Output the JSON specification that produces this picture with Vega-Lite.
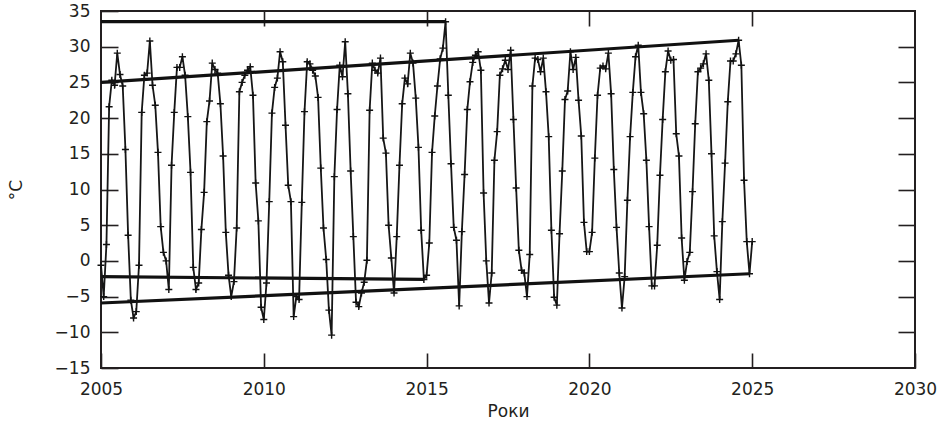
{
"$schema": "https://vega.github.io/schema/vega-lite/v6.json",
"width": 814, "height": 357,
"autosize": {"type": "none"},
"padding": {"left": 101, "top": 11, "right": 25, "bottom": 70},
"background": "white",
"config": {
 "view": {"stroke": "#231f20", "strokeWidth": 2},
 "axis": {"grid": false, "domain": false, "tickColor": "#231f20", "tickWidth": 1.6, "labelFlush": false, "labelFont": "DejaVu Sans", "labelFontSize": 17, "labelColor": "#231f20", "titleFont": "DejaVu Sans", "titleFontSize": 17, "titleFontWeight": "normal", "titleColor": "#231f20"}
},
"datasets": {
 "trend": [
  {"seg": "A", "t": 2005.0, "v": 33.5}, {"seg": "A", "t": 2015.583, "v": 33.5},
  {"seg": "B", "t": 2005.0, "v": -2.2}, {"seg": "B", "t": 2014.917, "v": -2.6},
  {"seg": "C", "t": 2005.0, "v": 25.0}, {"seg": "C", "t": 2024.583, "v": 30.9},
  {"seg": "D", "t": 2005.0, "v": -5.9}, {"seg": "D", "t": 2024.917, "v": -1.8}
 ],
 "series": [
  {"t":2005.000,"v":-0.6},{"t":2005.083,"v":-5.0},{"t":2005.167,"v":2.3},{"t":2005.250,"v":21.6},{"t":2005.333,"v":25.3},{"t":2005.417,"v":24.6},{"t":2005.500,"v":29.1},{"t":2005.583,"v":26.1},{"t":2005.667,"v":24.5},{"t":2005.750,"v":15.6},{"t":2005.833,"v":3.6},{"t":2005.917,"v":-5.5},
  {"t":2006.000,"v":-8.0},{"t":2006.083,"v":-7.1},{"t":2006.167,"v":-0.6},{"t":2006.250,"v":20.8},{"t":2006.333,"v":26.0},{"t":2006.417,"v":26.3},{"t":2006.500,"v":30.8},{"t":2006.583,"v":24.6},{"t":2006.667,"v":21.8},{"t":2006.750,"v":15.2},{"t":2006.833,"v":4.8},{"t":2006.917,"v":1.2},
  {"t":2007.000,"v":0.0},{"t":2007.083,"v":-4.0},{"t":2007.167,"v":13.4},{"t":2007.250,"v":20.8},{"t":2007.333,"v":27.1},{"t":2007.417,"v":27.1},{"t":2007.500,"v":28.6},{"t":2007.583,"v":26.0},{"t":2007.667,"v":20.2},{"t":2007.750,"v":12.4},{"t":2007.833,"v":-0.9},{"t":2007.917,"v":-4.0},
  {"t":2008.000,"v":-3.1},{"t":2008.083,"v":4.4},{"t":2008.167,"v":9.6},{"t":2008.250,"v":19.5},{"t":2008.333,"v":22.4},{"t":2008.417,"v":27.7},{"t":2008.500,"v":26.8},{"t":2008.583,"v":26.3},{"t":2008.667,"v":22.0},{"t":2008.750,"v":14.7},{"t":2008.833,"v":4.0},{"t":2008.917,"v":-2.0},
  {"t":2009.000,"v":-5.0},{"t":2009.083,"v":-2.9},{"t":2009.167,"v":4.6},{"t":2009.250,"v":23.7},{"t":2009.333,"v":25.0},{"t":2009.417,"v":26.0},{"t":2009.500,"v":26.7},{"t":2009.583,"v":27.2},{"t":2009.667,"v":23.2},{"t":2009.750,"v":10.9},{"t":2009.833,"v":5.6},{"t":2009.917,"v":-6.5},
  {"t":2010.000,"v":-8.2},{"t":2010.083,"v":-3.1},{"t":2010.167,"v":8.3},{"t":2010.250,"v":20.7},{"t":2010.333,"v":24.3},{"t":2010.417,"v":25.6},{"t":2010.500,"v":29.3},{"t":2010.583,"v":27.9},{"t":2010.667,"v":19.0},{"t":2010.750,"v":10.6},{"t":2010.833,"v":8.3},{"t":2010.917,"v":-7.8},
  {"t":2011.000,"v":-5.0},{"t":2011.083,"v":-5.4},{"t":2011.167,"v":8.2},{"t":2011.250,"v":20.9},{"t":2011.333,"v":27.9},{"t":2011.417,"v":27.6},{"t":2011.500,"v":26.7},{"t":2011.583,"v":25.9},{"t":2011.667,"v":22.9},{"t":2011.750,"v":13.0},{"t":2011.833,"v":4.6},{"t":2011.917,"v":0.2},
  {"t":2012.000,"v":-6.9},{"t":2012.083,"v":-10.4},{"t":2012.167,"v":11.8},{"t":2012.250,"v":21.2},{"t":2012.333,"v":27.4},{"t":2012.417,"v":25.8},{"t":2012.500,"v":30.7},{"t":2012.583,"v":23.4},{"t":2012.667,"v":12.6},{"t":2012.750,"v":3.4},{"t":2012.833,"v":-5.8},{"t":2012.917,"v":-6.4},
  {"t":2013.000,"v":-4.5},{"t":2013.083,"v":-3.0},{"t":2013.167,"v":0.1},{"t":2013.250,"v":21.1},{"t":2013.333,"v":27.7},{"t":2013.417,"v":26.7},{"t":2013.500,"v":26.3},{"t":2013.583,"v":28.4},{"t":2013.667,"v":17.2},{"t":2013.750,"v":15.1},{"t":2013.833,"v":5.0},{"t":2013.917,"v":0.4},
  {"t":2014.000,"v":-4.5},{"t":2014.083,"v":3.4},{"t":2014.167,"v":13.4},{"t":2014.250,"v":22.0},{"t":2014.333,"v":25.6},{"t":2014.417,"v":24.8},{"t":2014.500,"v":29.1},{"t":2014.583,"v":27.7},{"t":2014.667,"v":22.8},{"t":2014.750,"v":15.9},{"t":2014.833,"v":4.3},{"t":2014.917,"v":-2.6},
  {"t":2015.000,"v":-2.0},{"t":2015.083,"v":2.5},{"t":2015.167,"v":15.2},{"t":2015.250,"v":20.3},{"t":2015.333,"v":24.5},{"t":2015.417,"v":28.3},{"t":2015.500,"v":29.8},{"t":2015.583,"v":33.5},{"t":2015.667,"v":23.2},{"t":2015.750,"v":13.6},{"t":2015.833,"v":4.7},{"t":2015.917,"v":2.9},
  {"t":2016.000,"v":-6.3},{"t":2016.083,"v":4.1},{"t":2016.167,"v":12.1},{"t":2016.250,"v":21.2},{"t":2016.333,"v":25.1},{"t":2016.417,"v":27.8},{"t":2016.500,"v":28.8},{"t":2016.583,"v":29.3},{"t":2016.667,"v":26.7},{"t":2016.750,"v":9.5},{"t":2016.833,"v":0.0},{"t":2016.917,"v":-5.9},
  {"t":2017.000,"v":-1.7},{"t":2017.083,"v":14.1},{"t":2017.167,"v":18.1},{"t":2017.250,"v":26.0},{"t":2017.333,"v":26.9},{"t":2017.417,"v":28.1},{"t":2017.500,"v":26.8},{"t":2017.583,"v":29.5},{"t":2017.667,"v":19.8},{"t":2017.750,"v":10.2},{"t":2017.833,"v":1.5},{"t":2017.917,"v":-1.3},
  {"t":2018.000,"v":-1.7},{"t":2018.083,"v":-5.0},{"t":2018.167,"v":0.9},{"t":2018.250,"v":24.5},{"t":2018.333,"v":28.4},{"t":2018.417,"v":28.2},{"t":2018.500,"v":26.5},{"t":2018.583,"v":28.4},{"t":2018.667,"v":23.7},{"t":2018.750,"v":17.4},{"t":2018.833,"v":4.3},{"t":2018.917,"v":-5.1},
  {"t":2019.000,"v":-6.2},{"t":2019.083,"v":3.8},{"t":2019.167,"v":12.6},{"t":2019.250,"v":22.6},{"t":2019.333,"v":23.8},{"t":2019.417,"v":29.3},{"t":2019.500,"v":26.8},{"t":2019.583,"v":28.5},{"t":2019.667,"v":22.5},{"t":2019.750,"v":17.5},{"t":2019.833,"v":5.4},{"t":2019.917,"v":1.3},
  {"t":2020.000,"v":1.3},{"t":2020.083,"v":4.0},{"t":2020.167,"v":14.4},{"t":2020.250,"v":23.2},{"t":2020.333,"v":27.0},{"t":2020.417,"v":27.3},{"t":2020.500,"v":26.9},{"t":2020.583,"v":29.1},{"t":2020.667,"v":23.4},{"t":2020.750,"v":12.8},{"t":2020.833,"v":4.7},{"t":2020.917,"v":-1.7},
  {"t":2021.000,"v":-6.6},{"t":2021.083,"v":-2.2},{"t":2021.167,"v":8.5},{"t":2021.250,"v":17.4},{"t":2021.333,"v":23.6},{"t":2021.417,"v":28.6},{"t":2021.500,"v":30.2},{"t":2021.583,"v":23.6},{"t":2021.667,"v":20.6},{"t":2021.750,"v":14.1},{"t":2021.833,"v":4.8},{"t":2021.917,"v":-3.5},
  {"t":2022.000,"v":-3.5},{"t":2022.083,"v":2.2},{"t":2022.167,"v":12.0},{"t":2022.250,"v":19.8},{"t":2022.333,"v":26.5},{"t":2022.417,"v":29.4},{"t":2022.500,"v":28.1},{"t":2022.583,"v":28.2},{"t":2022.667,"v":17.8},{"t":2022.750,"v":14.7},{"t":2022.833,"v":3.2},{"t":2022.917,"v":-2.7},
  {"t":2023.000,"v":-0.1},{"t":2023.083,"v":1.2},{"t":2023.167,"v":9.7},{"t":2023.250,"v":19.2},{"t":2023.333,"v":26.5},{"t":2023.417,"v":27.0},{"t":2023.500,"v":27.6},{"t":2023.583,"v":29.0},{"t":2023.667,"v":25.3},{"t":2023.750,"v":15.0},{"t":2023.833,"v":3.5},{"t":2023.917,"v":-1.5},
  {"t":2024.000,"v":-5.4},{"t":2024.083,"v":5.5},{"t":2024.167,"v":13.7},{"t":2024.250,"v":22.3},{"t":2024.333,"v":28.0},{"t":2024.417,"v":28.0},{"t":2024.500,"v":29.0},{"t":2024.583,"v":30.9},{"t":2024.667,"v":27.4},{"t":2024.750,"v":11.3},{"t":2024.833,"v":2.7},{"t":2024.917,"v":-1.8},
  {"t":2025.000,"v":2.7}
 ]
},
"layer": [
 {
  "data": {"name": "trend"},
  "mark": {"type": "line", "color": "#111111", "strokeWidth": 3.2},
  "encoding": {
   "x": {"field": "t", "type": "quantitative", "scale": {"domain": [2005, 2030], "nice": false},
         "axis": {"orient": "bottom", "title": "Роки", "values": [2005, 2010, 2015, 2020, 2025, 2030], "format": "d", "offset": -15, "tickSize": 15, "labelPadding": 13, "titlePadding": 6}},
   "y": {"field": "v", "type": "quantitative", "scale": {"domain": [-15, 35], "nice": false},
         "axis": {"orient": "left", "title": "°C", "values": [-15, -10, -5, 0, 5, 10, 15, 20, 25, 30, 35], "offset": -17, "tickSize": 17, "labelPadding": 11, "titlePadding": 29}},
   "detail": {"field": "seg", "type": "nominal"}
  }
 },
 {
  "data": {"name": "series"},
  "mark": {"type": "line", "color": "#161616", "strokeWidth": 1.8},
  "encoding": {
   "x": {"field": "t", "type": "quantitative", "scale": {"domain": [2005, 2030], "nice": false},
         "axis": {"orient": "top", "title": null, "labels": false, "values": [2010, 2015, 2020, 2025], "offset": -15, "tickSize": 15}},
   "y": {"field": "v", "type": "quantitative", "scale": {"domain": [-15, 35], "nice": false},
         "axis": {"orient": "right", "title": null, "labels": false, "values": [-10, -5, 0, 5, 10, 15, 20, 25, 30], "offset": -17, "tickSize": 17}}
  }
 },
 {
  "data": {"name": "series"},
  "mark": {"type": "point", "shape": "M-1,0H1M0,-1V1", "size": 49, "filled": false, "stroke": "#111", "strokeWidth": 1.4, "opacity": 1},
  "encoding": {
   "x": {"field": "t", "type": "quantitative", "axis": null},
   "y": {"field": "v", "type": "quantitative", "axis": null}
  }
 }
],
"resolve": {"axis": {"x": "independent", "y": "independent"}}
}
